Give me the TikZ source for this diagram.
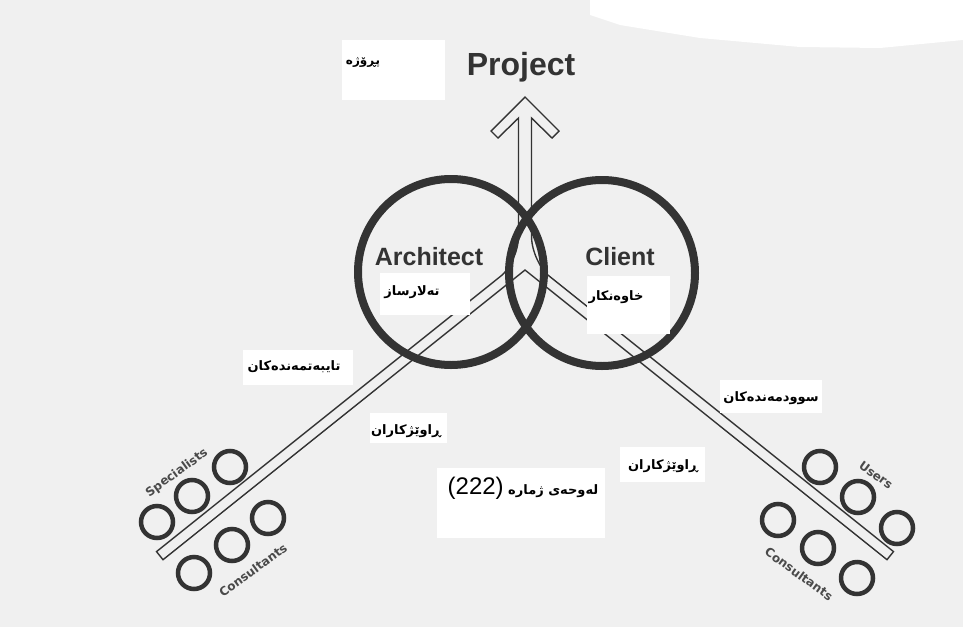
\documentclass[tikz,border=0pt]{standalone}
\usepackage{fontspec}
\setmainfont{Liberation Sans}
\newfontfamily\kurd[Script=Arabic]{DejaVu Sans}
\newfontfamily\smallsans{DejaVu Sans}
\newfontfamily\latinnum{Liberation Sans}
\TeXXeTstate=1
\definecolor{ink}{HTML}{333333}
\definecolor{paper}{HTML}{F0F0F0}
\definecolor{lab}{HTML}{4A4A4A}
\tikzset{
 bigring/.style={circle, draw=ink, line width=8pt, minimum size=186pt, inner sep=0pt},
 ring/.style={circle, draw=ink, line width=4.5pt, minimum size=32pt, inner sep=0pt},
 outline/.style={draw=ink, line width=1.4pt, line join=miter},
 enbig/.style={font=\bfseries\fontsize{25}{28}\selectfont, text=ink, inner sep=0pt},
 ensmall/.style={font=\smallsans\bfseries\fontsize{12}{14}\selectfont, text=lab, inner sep=0pt},
 kl/.style={font=\kurd\bfseries\fontsize{13}{15}\selectfont, text=black, inner sep=0pt},
 patch/.style={fill=white, draw=none},
}
\begin{document}
\begin{tikzpicture}[x=1pt,y=-1pt]
\useasboundingbox (0,0) rectangle (963,627);
\fill[paper] (0,0) rectangle (963,627);
\fill[patch] (590,0) -- (963,0) -- (963,40) -- (880,48) -- (800,47) -- (700,38) -- (620,25) -- (590,15) -- cycle;

% double bars and hollow arrow as one outline
\coordinate (apex) at (525,270);
\coordinate (tip) at (525,97);
\coordinate (lend) at (163,559.7);
\coordinate (lout) at (156.5,551.6);
\coordinate (rend) at (887,559.7);
\coordinate (rout) at (893.5,551.6);
\draw[outline] (518.5,118) -- (518.5,236) .. controls (518.5,252) and (509.1,269.4) .. (501.3,275.7)
  -- (lout) -- (lend) -- (apex) -- (rend) -- (rout) -- (548.7,275.7)
  .. controls (540.9,269.4) and (531.5,252) .. (531.5,236) -- (531.5,118)
  -- (552,138) -- (559,131) -- (tip) -- (491,131) -- (498,138) -- cycle;

% main rings
\node[bigring] (arch) at (451,272) {};
\node[bigring] (client) at (602,273) {};

% small rings left
\node[ring] (sp1) at (157,522) {};
\node[ring] (sp2) at (192,496) {};
\node[ring] (sp3) at (230,467) {};
\node[ring] (lc1) at (194,573) {};
\node[ring] (lc2) at (232,545) {};
\node[ring] (lc3) at (268,518) {};
% small rings right
\node[ring] (us1) at (820,467) {};
\node[ring] (us2) at (858,497) {};
\node[ring] (us3) at (897,528) {};
\node[ring] (rc1) at (778,520) {};
\node[ring] (rc2) at (818,548) {};
\node[ring] (rc3) at (857,578) {};

% small English labels
\node[ensmall, rotate=36] (lspec) at (177,473) {Specialists};
\node[ensmall, rotate=36] (lcons) at (253,570) {Consultants};
\node[ensmall, rotate=-36] (luser) at (876,475) {Users};
\node[ensmall, rotate=-36] (rcons) at (799,574) {Consultants};

% big English labels
\node[enbig, font=\bfseries\fontsize{32}{36}\selectfont, anchor=base] (proj) at (521,75) {Project};
\node[enbig, anchor=base] (tarch) at (429,265) {Architect};
\node[enbig, anchor=base] (tclient) at (620,265) {Client};

% white patches with Kurdish labels
\fill[patch] (342,40) rectangle (445,100);
\node[kl, font=\kurd\bfseries\fontsize{12}{14}\selectfont] (kproj) at (363,62) {\beginR پڕۆژە\endR};
\fill[patch] (380,273) rectangle (470,315);
\node[kl] (karch) at (412,292) {\beginR تەلارساز\endR};
\fill[patch] (587,276) rectangle (670,334);
\node[kl] (kclient) at (616,297) {\beginR خاوەنکار\endR};
\fill[patch] (243,350) rectangle (353,385);
\node[kl] (kspec) at (294,367) {\beginR تایبەتمەندەکان\endR};
\fill[patch] (370,413) rectangle (447,443);
\node[kl] (kcons1) at (406,431) {\beginR ڕاوێژکاران\endR};
\fill[patch] (720,380) rectangle (822,413);
\node[kl] (kuser) at (771,398) {\beginR سوودمەندەکان\endR};
\fill[patch] (620,447) rectangle (705,482);
\node[kl] (kcons2) at (663,466) {\beginR ڕاوێژکاران\endR};
\fill[patch] (437,468) rectangle (605,538);
\node[kl] (kfig) at (523,488) {\beginR لەوحەی ژمارە \beginL{\latinnum\mdseries\fontsize{24}{26}\selectfont(222)}\endL\endR};
\end{tikzpicture}
\end{document}
